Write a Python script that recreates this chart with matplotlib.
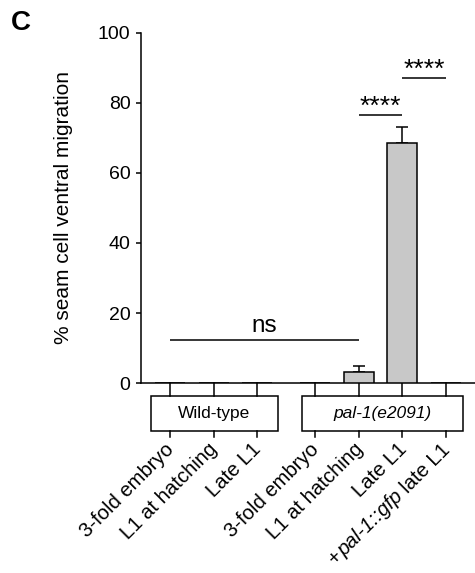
import matplotlib
matplotlib.use('Agg')
import matplotlib.pyplot as plt
from matplotlib import transforms
from matplotlib.patches import Rectangle
import numpy as np

plt.rcParams['font.family'] = ['Liberation Sans', 'DejaVu Sans']

# ---------------- data ----------------
groups = ['Wild-type', 'pal-1(e2091)']
stages_wt = ['3-fold embryo', 'L1 at hatching', 'Late L1']
stages_pal = ['3-fold embryo', 'L1 at hatching', 'Late L1', '+pal-1::gfp late L1']
values_wt = [0.0, 0.0, 0.0]
errors_wt = [0.0, 0.0, 0.0]
values_pal = [0.0, 3.2, 68.6, 0.0]
errors_pal = [0.0, 1.7, 4.4, 0.0]
ylabel = '% seam cell ventral migration'
yticks = [0, 20, 40, 60, 80, 100]
# comparisons: (bar index a, bar index b, height, label)
comparisons = [(0, 4, 12.3, 'ns'), (4, 5, 76.6, '****'), (5, 6, 87.1, '****')]
# italic pieces of the last tick label
last_label_pieces = [('+', 'normal'), ('pal-1::gfp', 'italic'), ('late L1', 'normal')]

# ---------------- layout ----------------
W, H, DPI = 475, 573, 100
fig = plt.figure(figsize=(W / DPI, H / DPI), dpi=DPI)
ax = fig.add_axes([141 / W, (H - 383) / H, (W - 141) / W, 350 / H])

gap = 1.33
pos_wt = np.arange(len(values_wt), dtype=float)
pos_pal = np.arange(len(values_pal), dtype=float) + pos_wt[-1] + gap
positions = np.concatenate([pos_wt, pos_pal])
values = np.array(values_wt + values_pal)
errors = np.array(errors_wt + errors_pal)
labels = stages_wt + stages_pal

lw = 1.1
ax.bar(positions, values, width=0.69, color='#c8c8c8', edgecolor='black',
       linewidth=lw, zorder=3)
m = errors > 0
ax.errorbar(positions[m], values[m], yerr=[np.zeros(m.sum()), errors[m]],
            fmt='none', ecolor='black', elinewidth=lw, capsize=4.5,
            capthick=lw, zorder=2)

ax.set_xlim(-0.665, 6.995)
ax.set_ylim(0, 100)
ax.set_yticks(yticks)
ax.tick_params(axis='y', labelsize=14, width=lw, length=3.6, pad=4)
ax.set_xticks([])
for s in ['top', 'right']:
    ax.spines[s].set_visible(False)
ax.spines['left'].set_linewidth(lw)
ax.spines['bottom'].set_linewidth(lw)
ax.set_ylabel(ylabel, fontsize=15)
ax.yaxis.set_label_coords(-0.205, 0.5)

# significance
for a, b, h, txt in comparisons:
    xa, xb = positions[a], positions[b]
    ax.plot([xa, xb], [h, h], color='black', lw=lw, solid_capstyle='butt')
    fs = 17.5 if txt == 'ns' else 19
    dy = 2.4 if txt == 'ns' else 0.3
    ax.text((xa + xb) / 2, h + dy, txt, ha='center', va='baseline', fontsize=fs)

# group boxes and ticks
bt = transforms.blended_transform_factory(ax.transData, ax.transAxes)
box_top, box_bot, tick_end = -0.0371, -0.137, -0.154
box_ext = [(-0.44, 0.48), (-0.30, 0.39)]
for gi, (gname, pos) in enumerate(zip(groups, [pos_wt, pos_pal])):
    x0 = pos[0] + box_ext[gi][0]
    x1 = pos[-1] + box_ext[gi][1]
    ax.add_patch(Rectangle((x0, box_bot), x1 - x0, box_top - box_bot,
                           transform=bt, fill=False, edgecolor='black',
                           lw=lw, clip_on=False))
    ax.text((x0 + x1) / 2, (box_top + box_bot) / 2, gname, transform=bt,
            ha='center', va='center', fontsize=12.5,
            fontstyle='italic' if gi == 1 else 'normal')
for p in positions:
    ax.plot([p, p], [0, box_top], transform=bt, color='black', lw=lw, clip_on=False)
    ax.plot([p, p], [box_bot, tick_end], transform=bt, color='black', lw=lw, clip_on=False)

# rotated tick labels (built from pieces so that part can be italic)
renderer = fig.canvas.get_renderer()
fs_tick = 14.6
c45 = np.cos(np.pi / 4)

def text_width(s, style):
    t = fig.text(0, 0, s, fontsize=fs_tick, fontstyle=style)
    w = t.get_window_extent(renderer).width
    t.remove()
    return w

space_w = 0.278 * fs_tick * DPI / 72
label_y = -0.193
for p, lab in zip(positions, labels):
    if lab == stages_pal[-1]:
        pieces = last_label_pieces
        widths = [text_width(s, st) for s, st in pieces]
        gaps = [0.0, space_w]
    else:
        pieces = [(lab, 'normal')]
        widths = [text_width(lab, 'normal')]
        gaps = []
    total = sum(widths) + sum(gaps)
    end_dx, end_dy = 5.0, 0.0
    cum = -total
    for i, ((s, st), w) in enumerate(zip(pieces, widths)):
        dx = end_dx + cum * c45
        dy = end_dy + cum * c45
        tr = transforms.offset_copy(bt, fig=fig, x=dx, y=dy, units='dots')
        ax.text(p, label_y, s, transform=tr, rotation=45, rotation_mode='anchor',
                ha='left', va='baseline', fontsize=fs_tick, fontstyle=st)
        cum += w
        if i < len(gaps):
            cum += gaps[i]

fig.text(21 / W, 1 - 23 / H, 'C', ha='center', va='center', fontsize=20,
         fontweight='bold')

fig.savefig('out.png', dpi=DPI)
